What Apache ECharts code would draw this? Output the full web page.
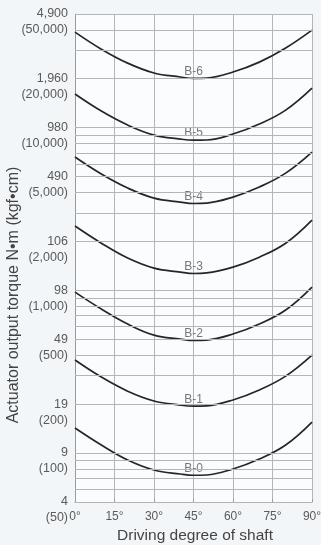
<!DOCTYPE html>
<html>
<head>
<meta charset="utf-8">
<script src="https://cdn.jsdelivr.net/npm/echarts@6/dist/echarts.min.js"></script>
<style>
html, body { margin: 0; padding: 0; background: #f3f6f9; }
#chart { width: 321px; height: 545px; }
</style>
</head>
<body>
<div id="chart"></div>
<script>
// Shaft angle (degrees) at which each torque curve is read
const degrees = [0, 10, 20, 30, 40, 45, 50, 60, 70, 80, 90];

// Actuator output torque per model, in kgf·cm
const torqueB0 = [142.5, 112, 90.6, 78.6, 74.3, 73, 73.3, 79.8, 91.8, 112, 155];
const torqueB1 = [373, 293, 240, 209, 197, 194, 195, 212, 244, 297, 400];
const torqueB2 = [976, 768, 621, 531, 502, 492, 495, 539, 621, 757, 1048];
const torqueB3 = [2485, 1950, 1580, 1370, 1296, 1270, 1280, 1390, 1600, 1950, 2705];
const torqueB4 = [6600, 5190, 4255, 3690, 3490, 3420, 3440, 3745, 4320, 5260, 7080];
const torqueB5 = [16100, 12650, 10380, 9010, 8510, 8380, 8400, 9140, 10530, 12830, 17520];
const torqueB6 = [38700, 30400, 24950, 21700, 20500, 20100, 20200, 22000, 25300, 30900, 39800];

const modelNames = ['B-0', 'B-1', 'B-2', 'B-3', 'B-4', 'B-5', 'B-6'];
const modelTorques = [torqueB0, torqueB1, torqueB2, torqueB3, torqueB4, torqueB5, torqueB6];

// Labelled torque levels: kgf·cm position, N·m text, kgf·cm text
const tickKgf = [50, 100, 200, 500, 1000, 2000, 5000, 10000, 20000, 50000];
const tickNm = ['4', '9', '19', '49', '98', '106', '490', '980', '1,960', '4,900'];
const tickKgfText = ['(50)', '(100)', '(200)', '(500)', '(1,000)', '(2,000)', '(5,000)', '(10,000)', '(20,000)', '(50,000)'];

// Unlabelled log-paper rulings (kgf·cm)
const gridKgf = [60, 70, 80, 90, 300, 400, 600, 700, 800, 900,
  3000, 4000, 6000, 7000, 8000, 9000, 30000, 40000];

// Shaft angle labels
const xLabelDegrees = [0, 15, 30, 45, 60, 75, 90];

const LABEL_ANGLE = 45;
const TEXT_FONT = 'Liberation Sans, Arial, sans-serif';

const chart = echarts.init(document.getElementById('chart'), null, { renderer: 'canvas' });

const curveSeries = modelNames.map((name, i) => ({
  name: name,
  type: 'line',
  smooth: 0.4,
  symbol: 'circle',
  symbolSize: 0.01,
  showSymbol: true,
  showAllSymbol: true,
  itemStyle: { color: 'rgba(0,0,0,0)' },
  z: 3,
  lineStyle: { color: '#262626', width: 1.7 },
  label: { show: false },
  data: degrees.map((d, j) => {
    const item = { value: [d, modelTorques[i][j]] };
    if (d === LABEL_ANGLE) {
      item.label = {
        show: true, position: 'top', distance: 1, formatter: name,
        color: '#777', fontSize: 12, fontFamily: TEXT_FONT
      };
    }
    return item;
  })
}));

const rulingLines = gridKgf.map(v => ({ yAxis: v, label: { show: false } }));
const labelledLines = tickKgf.map((v, i) => ({
  yAxis: v,
  label: {
    show: true,
    position: 'start',
    distance: 7,
    offset: [0, 8],
    formatter: '{a|' + tickNm[i] + '}\n{b|' + tickKgfText[i] + '}',
    rich: {
      a: { fontSize: 12.5, lineHeight: 16, color: '#5a5a5a', align: 'right', fontFamily: TEXT_FONT },
      b: { fontSize: 12.5, lineHeight: 16, color: '#5a5a5a', align: 'right', fontFamily: TEXT_FONT }
    }
  }
}));

const option = {
  backgroundColor: '#f3f6f9',
  animation: false,
  grid: {
    left: 75, right: 9, top: 14, bottom: 43,
    outerBoundsMode: 'none',
    containLabel: false,
    show: true, backgroundColor: '#fbfcfd', borderWidth: 0
  },
  xAxis: {
    type: 'value',
    min: 0, max: 90, interval: 10,
    axisLine: { lineStyle: { color: '#9a9a9a', width: 1 } },
    axisTick: { show: true, customValues: xLabelDegrees, length: 3, inside: true, lineStyle: { color: '#9a9a9a' } },
    axisLabel: {
      customValues: xLabelDegrees,
      margin: 9,
      fontSize: 12,
      color: '#5a5a5a',
      fontFamily: TEXT_FONT,
      formatter: v => v + '°'
    },
    splitLine: { show: true, lineStyle: { color: '#b5b5b5', width: 1 } }
  },
  yAxis: {
    type: 'log',
    logBase: 10,
    min: 50, max: 50000,
    axisLine: { show: true, lineStyle: { color: '#9a9a9a', width: 1 } },
    axisTick: { show: false },
    axisLabel: { show: false },
    splitLine: { show: false }
  },
  graphic: [{
    type: 'text',
    x: 14, y: 295,
    rotation: Math.PI / 2,
    style: {
      text: 'Actuator output torque N•m (kgf•cm)',
      fontSize: 16,
      fill: '#444',
      fontFamily: TEXT_FONT,
      align: 'center',
      verticalAlign: 'middle'
    }
  }, {
    type: 'text',
    x: 195, y: 536,
    style: {
      text: 'Driving degree of shaft',
      fontSize: 15.5,
      fill: '#444',
      fontFamily: TEXT_FONT,
      align: 'center',
      verticalAlign: 'middle'
    }
  }],
  series: [{
    name: 'rulings',
    type: 'line',
    data: [],
    z: 1,
    silent: true,
    markLine: {
      silent: true,
      symbol: ['none', 'none'],
      animation: false,
      lineStyle: { color: '#b5b5b5', width: 1, type: 'solid' },
      data: rulingLines.concat(labelledLines)
    }
  }].concat(curveSeries)
};

chart.setOption(option);
</script>
</body>
</html>
